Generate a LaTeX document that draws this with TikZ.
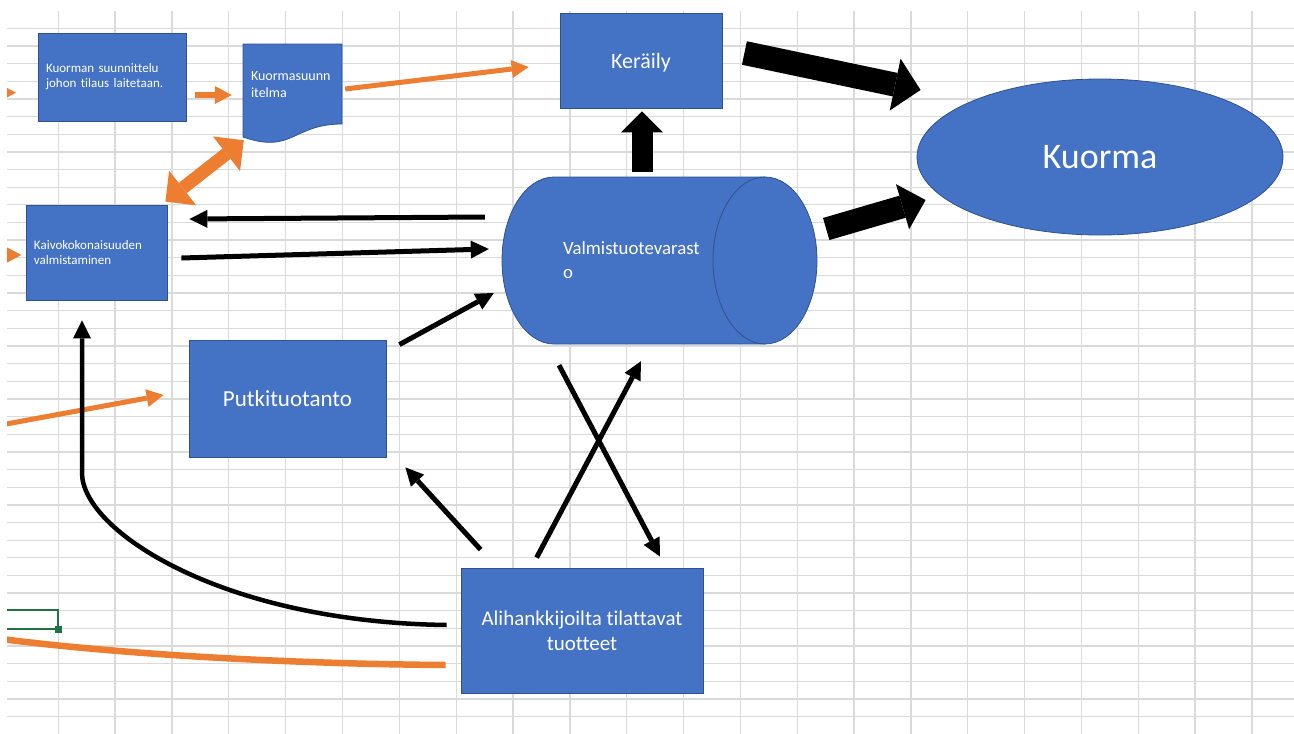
\documentclass[tikz,border=0pt]{standalone}
\usepackage{fontspec}
\setmainfont{Carlito}[Ligatures=NoCommon]
\usetikzlibrary{shapes.geometric, arrows.meta, calc}
\definecolor{officeblue}{HTML}{4472C4}
\definecolor{officeedge}{HTML}{2F528F}
\definecolor{officeorange}{HTML}{ED7D31}
\definecolor{excelgreen}{HTML}{217346}
\definecolor{gridgray}{HTML}{DADADA}

\begin{document}
\begin{tikzpicture}[x=1pt, y=-1pt,
        box/.style={draw=officeedge, line width=0.8pt, fill=officeblue, text=white, inner sep=0pt},
        notebox/.style={box, align=left, inner xsep=8pt},
        arrow/.style={draw=black, line width=5pt, arrows={-Triangle[width=18pt, length=18pt, line width=0pt]}},
        orangearrow/.style={draw=officeorange, line width=5pt, arrows={-Triangle[width=18pt, length=17pt, line width=0pt]}},
        blockarrow/.style n args={3}{draw=black, line width=#1, arrows={-Triangle[width=#2, length=#3, line width=0pt]}},
        gridline/.style={draw=gridgray, line width=1.3pt}
    ]
    \useasboundingbox (0,0) rectangle (1294,734);
    \begin{scope}
        \clip (7,0) rectangle (1294,734);

        % Taulukon ruudukko
        \foreach \k in {0,...,39}
            \draw[gridline] (7,{28.3+17.65*\k}) -- (1294,{28.3+17.65*\k});
        \foreach \k in {0,...,21}
            \draw[gridline] ({58.3+56.84*\k},11) -- ({58.3+56.84*\k},734);

        % Valittu solu
        \draw[excelgreen, line width=1.8pt] (0,610) -- (58,610) -- (58,629) -- (0,629);
        \fill[excelgreen] (54.5,625.5) rectangle (61.5,632.5);

        % Solmut
        \node[notebox, minimum height=88pt, text width=132pt, font=\fontsize{13pt}{15pt}\selectfont] (suunnittelu) at (112,77) {Kuorman suunnittelu\\johon tilaus laitetaan.};

        \filldraw[fill=officeblue, draw=officeedge, line width=0.8pt] (243,44) -- (342,44) -- (342,124) .. controls (292.5,124) and (292.5,154.3) .. (243,137) -- cycle;
        \node[text=white, align=left, inner xsep=8pt, inner ysep=0pt, minimum height=81pt, text width=83pt, font=\fontsize{14pt}{16.7pt}\selectfont] (suunnitelma) at (292.5,84.5) {Kuormasuunn\\itelma};

        \node[box, minimum width=162pt, minimum height=95pt, text depth=0pt, font=\fontsize{22pt}{26pt}\selectfont] (keraily) at (641,60.5) {Keräily};

        \node[box, ellipse, minimum width=366pt, minimum height=156pt, font=\fontsize{36pt}{43pt}\selectfont] (kuorma) at (1100,157) {Kuorma};

        \filldraw[fill=officeblue, draw=officeedge, line width=0.8pt] (554,177) -- (765,177) arc[start angle=-90, end angle=90, x radius=52, y radius=83.5] -- (554,344) arc[start angle=90, end angle=270, x radius=52, y radius=83.5] -- cycle;
        \draw[officeedge, line width=0.8pt] (765,177) arc[start angle=270, end angle=90, x radius=52, y radius=83.5];
        \node[text=white, align=left, inner sep=0pt, text width=193pt, minimum width=315pt, minimum height=167pt, font=\fontsize{18.8pt}{24pt}\selectfont] (varasto) at (659.5,260.5) {Valmistuotevarast\\o};

        \node[notebox, minimum height=95pt, text width=125pt, font=\fontsize{13pt}{15.6pt}\selectfont] (kaivo) at (96.5,252.5) {Kaivokokonaisuuden\\valmistaminen};

        \node[box, minimum width=197pt, minimum height=117pt, font=\fontsize{23pt}{27pt}\selectfont] (putki) at (287.5,398.5) {Putkituotanto};

        \node[box, minimum width=242pt, minimum height=125pt, align=center, font=\fontsize{21pt}{25pt}\selectfont] (alihankinta) at (582,630.5) {Alihankkijoilta tilattavat\\tuotteet};

        % Reunan yli jatkuvat viivat
        \coordinate (reunaA) at (-20,92.7);
        \coordinate (reunaB) at (-20,255);
        \coordinate (reunaC) at (-10,427);
        \coordinate (reunaD) at (-10,637.5);

        % Yhteydet
        \draw[orangearrow] (reunaA) -- (16,92.7);
        \draw[orangearrow] (reunaB) -- (21.4,255);
        \draw[orangearrow, line width=6pt] ($(suunnittelu.east)+(9,18)$) -- ($(suunnitelma.west)+(-11,10.5)$);
        \draw[orangearrow] ($(suunnitelma.east)+(3,4.5)$) -- ($(keraily.west)+(-31,6.5)$);
        \draw[draw=officeorange, line width=13pt, arrows={Triangle[width=44pt, length=22pt, line width=0pt]-Triangle[width=44pt, length=22pt, line width=0pt]}] ($(kaivo.north east)+(-2,-3)$) -- ($(suunnitelma.south west)+(1,15)$);
        \draw[orangearrow] (reunaC) -- ($(putki.west)+(-25,-3.5)$);
        \draw[officeorange, line width=6.5pt] ($(alihankinta.west)+(-15,34.5)$) .. controls (300,664) and (120,655) .. (reunaD);

        \draw[arrow] ($(varasto.west)+(-17,-43.5)$) -- ($(kaivo.east)+(22,-33.5)$);
        \draw[arrow] ($(kaivo.east)+(14,5.5)$) -- ($(varasto.west)+(-13,-11.5)$);
        \draw[arrow] ($(putki.north east)+(13,5)$) -- ($(varasto.west)+(-8,32.5)$);

        \draw[blockarrow={21pt}{42pt}{21pt}] ($(keraily.south |- varasto.north)+(1,-5)$) -- ($(keraily.south)+(1,3)$);
        \draw[blockarrow={24pt}{53pt}{26pt}] ($(keraily.east)+(22,-7.5)$) -- ($(kuorma.west)+(4,-67)$);
        \draw[blockarrow={23pt}{47pt}{24pt}] ($(varasto.east)+(9,-31.5)$) -- ($(kuorma.west)+(9,43)$);

        \draw[arrow] ($(alihankinta.north west)+(20,-18)$) -- ($(putki.south east)+(19,10)$);
        \draw[arrow] ($(alihankinta.north west)+(76,-10)$) -- ($(varasto.south)+(-18.5,17)$);
        \draw[arrow] ($(varasto.south)+(-100.5,21)$) -- ($(alihankinta.north)+(78,-11)$);
        \draw[arrow, line width=4.5pt] ($(alihankinta.west)+(-14,-5.5)$) .. controls (220,622) and (82,530) .. (82,473) -- ($(kaivo.south)+(-14.5,20)$);
    \end{scope}
\end{tikzpicture}
\end{document}
